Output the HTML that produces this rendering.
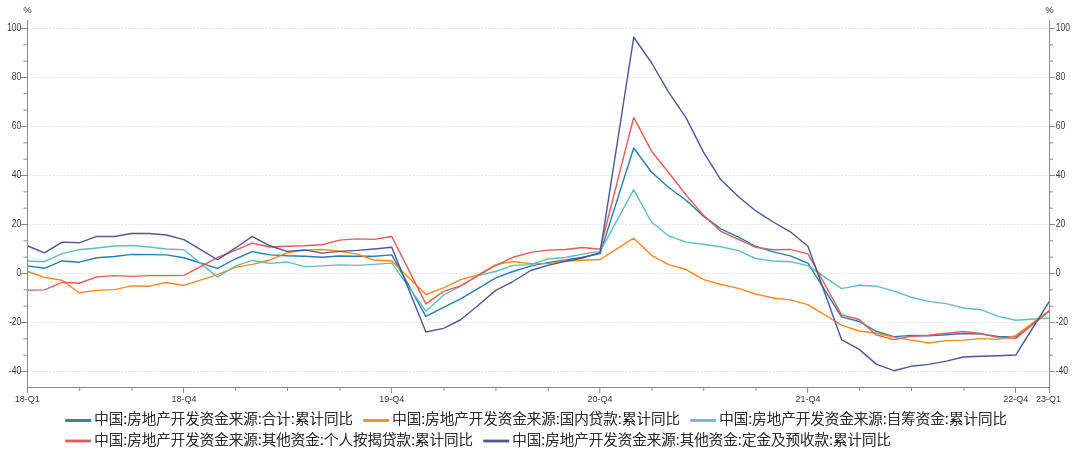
<!DOCTYPE html>
<html lang="zh-CN"><head><meta charset="utf-8"><title>房地产开发资金来源</title>
<style>
html,body{margin:0;padding:0;background:#fff;}
body{width:1080px;height:449px;overflow:hidden;position:relative;font-family:"Liberation Sans","Noto Sans CJK SC",sans-serif;}
svg{position:absolute;left:0;top:0;display:block;}
svg text{font-family:"Liberation Sans","Noto Sans CJK SC",sans-serif;}
.ax{font-size:9px;fill:#3c3c3c;}
.ax .yl{font-size:10px;}
.lg{position:absolute;font-size:14.5px;font-weight:300;-webkit-text-stroke:0.22px #000;line-height:20px;height:20px;color:#000;white-space:nowrap;}
</style></head><body>
<svg width="1080" height="449" viewBox="0 0 1080 449">
<g stroke="#e9e9e9" stroke-width="1" stroke-dasharray="2.4 1.2" fill="none"><line x1="27.3" y1="371.50" x2="1049.0" y2="371.50"/><line x1="27.3" y1="322.50" x2="1049.0" y2="322.50"/><line x1="27.3" y1="273.50" x2="1049.0" y2="273.50"/><line x1="27.3" y1="224.50" x2="1049.0" y2="224.50"/><line x1="27.3" y1="175.50" x2="1049.0" y2="175.50"/><line x1="27.3" y1="126.50" x2="1049.0" y2="126.50"/><line x1="27.3" y1="77.50" x2="1049.0" y2="77.50"/><line x1="27.3" y1="28.50" x2="1049.0" y2="28.50"/></g>
<polyline points="27.35,265.85 44.43,268.31 62.08,260.95 79.16,262.18 96.81,257.77 114.46,256.55 131.54,254.34 149.19,254.58 166.27,254.83 183.92,257.77 217.52,268.31 235.17,259.00 252.25,251.64 269.90,254.83 286.98,255.81 304.63,256.30 322.28,257.28 339.36,256.06 357.01,256.30 374.09,256.30 391.74,254.83 425.90,316.32 443.55,307.26 460.63,298.93 478.28,288.39 495.36,278.10 513.01,271.49 530.66,266.10 547.74,262.67 565.39,259.97 582.48,257.28 600.13,253.60 633.72,148.01 651.37,172.02 668.45,187.21 686.10,200.19 703.18,215.88 720.83,228.86 738.48,237.19 755.56,246.25 773.21,251.89 790.29,255.81 807.94,263.16 841.53,316.81 859.18,321.47 876.26,331.27 893.91,336.66 911.00,335.44 928.65,335.68 946.30,334.70 963.38,333.47 981.03,333.96 998.11,336.42 1015.76,336.90 1049.35,310.69" fill="none" stroke="#2a7cab" stroke-width="1.4" stroke-linejoin="round" stroke-linecap="butt"/>
<polyline points="27.35,271.25 44.43,277.37 62.08,280.31 79.16,292.81 96.81,290.35 114.46,289.62 131.54,285.94 149.19,286.19 166.27,282.51 183.92,285.45 217.52,274.68 235.17,267.32 252.25,264.38 269.90,259.97 286.98,252.87 304.63,250.17 322.28,249.44 339.36,251.15 357.01,254.09 374.09,259.97 391.74,260.95 425.90,294.52 443.55,287.90 460.63,279.57 478.28,274.92 495.36,264.88 513.01,261.44 530.66,263.65 547.74,263.65 565.39,260.95 582.48,260.22 600.13,259.49 633.72,238.17 651.37,255.07 668.45,264.63 686.10,269.53 703.18,279.33 720.83,284.47 738.48,288.39 755.56,294.03 773.21,297.95 790.29,299.91 807.94,304.56 841.53,325.14 859.18,331.02 876.26,333.23 893.91,337.15 911.00,340.09 928.65,343.03 946.30,340.58 963.38,340.09 981.03,338.62 998.11,339.35 1015.76,335.68 1049.35,310.20" fill="none" stroke="#f58a22" stroke-width="1.4" stroke-linejoin="round" stroke-linecap="butt"/>
<polyline points="27.35,260.95 44.43,261.69 62.08,253.60 79.16,249.69 96.81,247.97 114.46,246.01 131.54,245.52 149.19,246.99 166.27,248.95 183.92,249.69 217.52,277.12 235.17,266.10 252.25,260.46 269.90,263.40 286.98,261.94 304.63,266.59 322.28,265.85 339.36,264.88 357.01,265.37 374.09,264.38 391.74,263.16 425.90,311.18 443.55,295.01 460.63,286.19 478.28,275.41 495.36,271.49 513.01,265.37 530.66,264.63 547.74,259.00 565.39,257.52 582.48,254.09 600.13,251.40 633.72,189.66 651.37,222.00 668.45,235.72 686.10,242.09 703.18,244.29 720.83,246.74 738.48,250.66 755.56,258.50 773.21,260.95 790.29,261.69 807.94,265.61 841.53,288.64 859.18,285.21 876.26,286.19 893.91,291.09 911.00,297.21 928.65,301.38 946.30,303.58 963.38,308.00 981.03,309.71 998.11,316.32 1015.76,320.25 1049.35,318.04" fill="none" stroke="#61bdc1" stroke-width="1.4" stroke-linejoin="round" stroke-linecap="butt"/>
<polyline points="27.35,290.11 44.43,289.87 62.08,282.27 79.16,283.25 96.81,276.88 114.46,275.65 131.54,276.39 149.19,275.65 166.27,275.65 183.92,275.41 217.52,257.52 235.17,250.42 252.25,243.07 269.90,246.99 286.98,246.25 304.63,245.76 322.28,244.78 339.36,240.13 357.01,238.90 374.09,239.39 391.74,236.45 425.90,303.83 443.55,291.33 460.63,285.94 478.28,275.41 495.36,265.61 513.01,257.28 530.66,252.38 547.74,250.17 565.39,249.44 582.48,247.48 600.13,249.19 633.72,117.38 651.37,150.95 668.45,172.26 686.10,195.05 703.18,214.89 720.83,231.31 738.48,239.39 755.56,247.23 773.21,249.69 790.29,249.44 807.94,253.85 841.53,314.85 859.18,319.51 876.26,334.94 893.91,339.60 911.00,336.42 928.65,335.19 946.30,333.23 963.38,331.51 981.03,333.47 998.11,337.64 1015.76,338.38 1049.35,310.94" fill="none" stroke="#df5d5d" stroke-width="1.4" stroke-linejoin="round" stroke-linecap="butt"/>
<polyline points="27.35,245.76 44.43,252.87 62.08,242.09 79.16,242.82 96.81,236.45 114.46,236.45 131.54,233.51 149.19,233.51 166.27,234.98 183.92,239.64 217.52,259.73 235.17,248.21 252.25,236.45 269.90,245.76 286.98,251.40 304.63,249.93 322.28,253.11 339.36,251.40 357.01,250.42 374.09,248.95 391.74,247.23 425.90,332.00 443.55,328.33 460.63,319.75 478.28,305.30 495.36,290.60 513.01,281.53 530.66,270.51 547.74,265.37 565.39,261.44 582.48,258.01 600.13,252.62 633.72,37.27 651.37,62.51 668.45,91.91 686.10,117.87 703.18,151.68 720.83,179.86 738.48,196.76 755.56,210.73 773.21,222.00 790.29,231.80 807.94,246.25 841.53,339.60 859.18,349.40 876.26,364.10 893.91,370.71 911.00,366.31 928.65,364.34 946.30,361.16 963.38,357.00 981.03,356.26 998.11,355.77 1015.76,355.03 1049.35,301.38" fill="none" stroke="#4b5992" stroke-width="1.4" stroke-linejoin="round" stroke-linecap="butt"/>
<g stroke="#8a8a8a" stroke-width="1" fill="none"><line x1="27.5" y1="20" x2="27.5" y2="388"/><line x1="1049.5" y1="20" x2="1049.5" y2="388"/><line x1="27.0" y1="387.5" x2="1050.0" y2="387.5"/><line x1="21.0" y1="371.50" x2="27.0" y2="371.50"/><line x1="1050.0" y1="371.50" x2="1055.0" y2="371.50"/><line x1="23.5" y1="355.17" x2="27.0" y2="355.17"/><line x1="1050.0" y1="355.17" x2="1053.0" y2="355.17"/><line x1="23.5" y1="338.83" x2="27.0" y2="338.83"/><line x1="1050.0" y1="338.83" x2="1053.0" y2="338.83"/><line x1="21.0" y1="322.50" x2="27.0" y2="322.50"/><line x1="1050.0" y1="322.50" x2="1055.0" y2="322.50"/><line x1="23.5" y1="306.17" x2="27.0" y2="306.17"/><line x1="1050.0" y1="306.17" x2="1053.0" y2="306.17"/><line x1="23.5" y1="289.83" x2="27.0" y2="289.83"/><line x1="1050.0" y1="289.83" x2="1053.0" y2="289.83"/><line x1="21.0" y1="273.50" x2="27.0" y2="273.50"/><line x1="1050.0" y1="273.50" x2="1055.0" y2="273.50"/><line x1="23.5" y1="257.17" x2="27.0" y2="257.17"/><line x1="1050.0" y1="257.17" x2="1053.0" y2="257.17"/><line x1="23.5" y1="240.83" x2="27.0" y2="240.83"/><line x1="1050.0" y1="240.83" x2="1053.0" y2="240.83"/><line x1="21.0" y1="224.50" x2="27.0" y2="224.50"/><line x1="1050.0" y1="224.50" x2="1055.0" y2="224.50"/><line x1="23.5" y1="208.17" x2="27.0" y2="208.17"/><line x1="1050.0" y1="208.17" x2="1053.0" y2="208.17"/><line x1="23.5" y1="191.83" x2="27.0" y2="191.83"/><line x1="1050.0" y1="191.83" x2="1053.0" y2="191.83"/><line x1="21.0" y1="175.50" x2="27.0" y2="175.50"/><line x1="1050.0" y1="175.50" x2="1055.0" y2="175.50"/><line x1="23.5" y1="159.17" x2="27.0" y2="159.17"/><line x1="1050.0" y1="159.17" x2="1053.0" y2="159.17"/><line x1="23.5" y1="142.83" x2="27.0" y2="142.83"/><line x1="1050.0" y1="142.83" x2="1053.0" y2="142.83"/><line x1="21.0" y1="126.50" x2="27.0" y2="126.50"/><line x1="1050.0" y1="126.50" x2="1055.0" y2="126.50"/><line x1="23.5" y1="110.17" x2="27.0" y2="110.17"/><line x1="1050.0" y1="110.17" x2="1053.0" y2="110.17"/><line x1="23.5" y1="93.83" x2="27.0" y2="93.83"/><line x1="1050.0" y1="93.83" x2="1053.0" y2="93.83"/><line x1="21.0" y1="77.50" x2="27.0" y2="77.50"/><line x1="1050.0" y1="77.50" x2="1055.0" y2="77.50"/><line x1="23.5" y1="61.17" x2="27.0" y2="61.17"/><line x1="1050.0" y1="61.17" x2="1053.0" y2="61.17"/><line x1="23.5" y1="44.83" x2="27.0" y2="44.83"/><line x1="1050.0" y1="44.83" x2="1053.0" y2="44.83"/><line x1="21.0" y1="28.50" x2="27.0" y2="28.50"/><line x1="1050.0" y1="28.50" x2="1055.0" y2="28.50"/><line x1="27.50" y1="388" x2="27.50" y2="393.0"/><line x1="79.68" y1="388" x2="79.68" y2="391.0"/><line x1="132.06" y1="388" x2="132.06" y2="391.0"/><line x1="183.57" y1="388" x2="183.57" y2="393.0"/><line x1="235.69" y1="388" x2="235.69" y2="391.0"/><line x1="287.50" y1="388" x2="287.50" y2="391.0"/><line x1="339.88" y1="388" x2="339.88" y2="391.0"/><line x1="391.39" y1="388" x2="391.39" y2="393.0"/><line x1="444.07" y1="388" x2="444.07" y2="391.0"/><line x1="495.88" y1="388" x2="495.88" y2="391.0"/><line x1="548.26" y1="388" x2="548.26" y2="391.0"/><line x1="599.78" y1="388" x2="599.78" y2="393.0"/><line x1="651.89" y1="388" x2="651.89" y2="391.0"/><line x1="703.70" y1="388" x2="703.70" y2="391.0"/><line x1="756.08" y1="388" x2="756.08" y2="391.0"/><line x1="807.59" y1="388" x2="807.59" y2="393.0"/><line x1="859.70" y1="388" x2="859.70" y2="391.0"/><line x1="911.52" y1="388" x2="911.52" y2="391.0"/><line x1="963.90" y1="388" x2="963.90" y2="391.0"/><line x1="1015.41" y1="388" x2="1015.41" y2="393.0"/><line x1="1049.5" y1="388" x2="1049.5" y2="393"/></g>
<g class="ax"><text class="yl" transform="translate(21.3,373.5) scale(0.86,1)" text-anchor="end">-40</text><text class="yl" transform="translate(1055.7,373.5) scale(0.86,1)" text-anchor="start">-40</text><text class="yl" transform="translate(21.3,324.5) scale(0.86,1)" text-anchor="end">-20</text><text class="yl" transform="translate(1055.7,324.5) scale(0.86,1)" text-anchor="start">-20</text><text class="yl" transform="translate(21.3,275.5) scale(0.86,1)" text-anchor="end">0</text><text class="yl" transform="translate(1055.7,275.5) scale(0.86,1)" text-anchor="start">0</text><text class="yl" transform="translate(21.3,226.5) scale(0.86,1)" text-anchor="end">20</text><text class="yl" transform="translate(1055.7,226.5) scale(0.86,1)" text-anchor="start">20</text><text class="yl" transform="translate(21.3,177.5) scale(0.86,1)" text-anchor="end">40</text><text class="yl" transform="translate(1055.7,177.5) scale(0.86,1)" text-anchor="start">40</text><text class="yl" transform="translate(21.3,128.5) scale(0.86,1)" text-anchor="end">60</text><text class="yl" transform="translate(1055.7,128.5) scale(0.86,1)" text-anchor="start">60</text><text class="yl" transform="translate(21.3,79.5) scale(0.86,1)" text-anchor="end">80</text><text class="yl" transform="translate(1055.7,79.5) scale(0.86,1)" text-anchor="start">80</text><text class="yl" transform="translate(21.3,30.5) scale(0.86,1)" text-anchor="end">100</text><text class="yl" transform="translate(1055.7,30.5) scale(0.86,1)" text-anchor="start">100</text><text x="27.3" y="401.9" text-anchor="middle">18-Q1</text><text x="183.9" y="401.9" text-anchor="middle">18-Q4</text><text x="391.7" y="401.9" text-anchor="middle">19-Q4</text><text x="600.1" y="401.9" text-anchor="middle">20-Q4</text><text x="807.9" y="401.9" text-anchor="middle">21-Q4</text><text x="1015.7" y="401.9" text-anchor="middle">22-Q4</text><text x="1048.5" y="401.9" text-anchor="middle">23-Q1</text><text x="27.5" y="12.7" text-anchor="middle" style="font-size:9.5px">%</text><text x="1049.5" y="12.7" text-anchor="middle" style="font-size:9.5px">%</text></g>
<g stroke-width="2.8" fill="none"><line x1="65.2" y1="420.5" x2="91.2" y2="420.5" stroke="#2a7cab"/><line x1="363.2" y1="420.5" x2="389.2" y2="420.5" stroke="#f58a22"/><line x1="690.2" y1="420.5" x2="716.2" y2="420.5" stroke="#61bdc1"/><line x1="65.2" y1="441.0" x2="91.2" y2="441.0" stroke="#df5d5d"/><line x1="483.2" y1="441.0" x2="509.2" y2="441.0" stroke="#4b5992"/></g>
</svg>
<div class="lg" style="left:94.3px;top:409.3px">中国:房地产开发资金来源:合计:累计同比</div>
<div class="lg" style="left:392.3px;top:409.3px">中国:房地产开发资金来源:国内贷款:累计同比</div>
<div class="lg" style="left:719.3px;top:409.3px">中国:房地产开发资金来源:自筹资金:累计同比</div>
<div class="lg" style="left:94.3px;top:430.3px">中国:房地产开发资金来源:其他资金:个人按揭贷款:累计同比</div>
<div class="lg" style="left:512.3px;top:430.3px">中国:房地产开发资金来源:其他资金:定金及预收款:累计同比</div>
</body></html>
